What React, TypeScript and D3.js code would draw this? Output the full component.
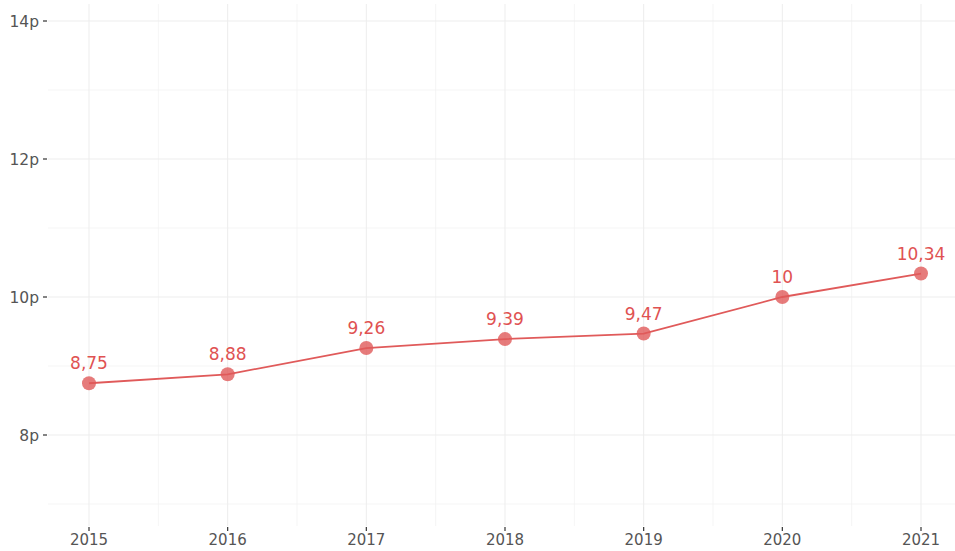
import { useEffect, useRef } from "react";
import * as d3 from "d3";

const years = [2015, 2016, 2017, 2018, 2019, 2020, 2021];
const values = [8.75, 8.88, 9.26, 9.39, 9.47, 10, 10.34];
const yTicks = [8, 10, 12, 14];
const yMinor = [7, 9, 11, 13];

const W = 955;
const H = 551;

export default function App() {
  const svgRef = useRef<SVGSVGElement>(null);

  useEffect(() => {
    const svg = d3.select(svgRef.current);
    svg.selectAll("*").remove();

    const left = 48;
    const top = 4;
    const bottom = 526;

    // panel runs past the right edge, like the original export
    const x = d3.scaleLinear().domain([2015, 2021]).range([89, 921]);
    const y = d3.scaleLinear().domain([8, 14]).range([435, 21]);

    const g = svg.append("g");

    // minor grid
    const xMinor = years.slice(0, -1).map((v) => v + 0.5);
    g.selectAll(".vminor")
      .data(xMinor)
      .join("line")
      .attr("x1", (d) => x(d))
      .attr("x2", (d) => x(d))
      .attr("y1", top)
      .attr("y2", bottom)
      .attr("stroke", "#f3f3f3")
      .attr("stroke-width", 0.8);
    g.selectAll(".hminor")
      .data(yMinor)
      .join("line")
      .attr("x1", left)
      .attr("x2", W)
      .attr("y1", (d) => y(d))
      .attr("y2", (d) => y(d))
      .attr("stroke", "#f3f3f3")
      .attr("stroke-width", 0.8);

    // major grid
    g.selectAll(".vmajor")
      .data(years)
      .join("line")
      .attr("x1", (d) => x(d))
      .attr("x2", (d) => x(d))
      .attr("y1", top)
      .attr("y2", bottom)
      .attr("stroke", "#ededed")
      .attr("stroke-width", 1);
    g.selectAll(".hmajor")
      .data(yTicks)
      .join("line")
      .attr("x1", left)
      .attr("x2", W)
      .attr("y1", (d) => y(d))
      .attr("y2", (d) => y(d))
      .attr("stroke", "#ededed")
      .attr("stroke-width", 1);

    const font = "'DejaVu Sans', sans-serif";

    // y axis ticks + labels
    g.selectAll(".ytick")
      .data(yTicks)
      .join("line")
      .attr("x1", left - 5)
      .attr("x2", left - 1)
      .attr("y1", (d) => y(d))
      .attr("y2", (d) => y(d))
      .attr("stroke", "#333")
      .attr("stroke-width", 1.2);
    g.selectAll(".ylab")
      .data(yTicks)
      .join("text")
      .attr("x", left - 9)
      .attr("y", (d) => y(d))
      .attr("dy", "0.36em")
      .attr("text-anchor", "end")
      .attr("font-family", font)
      .attr("font-size", 15.5)
      .attr("fill", "#555")
      .text((d) => `${d}p`);

    // x axis ticks + labels
    g.selectAll(".xtick")
      .data(years)
      .join("line")
      .attr("x1", (d) => x(d))
      .attr("x2", (d) => x(d))
      .attr("y1", bottom + 1)
      .attr("y2", bottom + 5)
      .attr("stroke", "#333")
      .attr("stroke-width", 1.2);
    g.selectAll(".xlab")
      .data(years)
      .join("text")
      .attr("x", (d) => x(d))
      .attr("y", bottom + 19)
      .attr("text-anchor", "middle")
      .attr("font-family", font)
      .attr("font-size", 15)
      .attr("fill", "#555")
      .text((d) => d);

    // line
    const line = d3
      .line<number>()
      .x((_, i) => x(years[i]))
      .y((d) => y(d));
    g.append("path")
      .datum(values)
      .attr("d", line)
      .attr("fill", "none")
      .attr("stroke", "#e05a5a")
      .attr("stroke-width", 1.8);

    g.selectAll(".pt")
      .data(values)
      .join("circle")
      .attr("cx", (_, i) => x(years[i]))
      .attr("cy", (d) => y(d))
      .attr("r", 7)
      .attr("fill", "#e05a5a")
      .attr("fill-opacity", 0.8);

    g.selectAll(".vlab")
      .data(values)
      .join("text")
      .attr("x", (_, i) => x(years[i]))
      .attr("y", (d) => y(d) - 14)
      .attr("text-anchor", "middle")
      .attr("font-family", font)
      .attr("font-size", 17)
      .attr("fill", "#e05252")
      .text((d) => String(d).replace(".", ","));
  }, []);

  return (
    <svg
      ref={svgRef}
      width={W}
      height={H}
      style={{ position: "absolute", left: 0, top: 0, background: "#fff" }}
    />
  );
}
